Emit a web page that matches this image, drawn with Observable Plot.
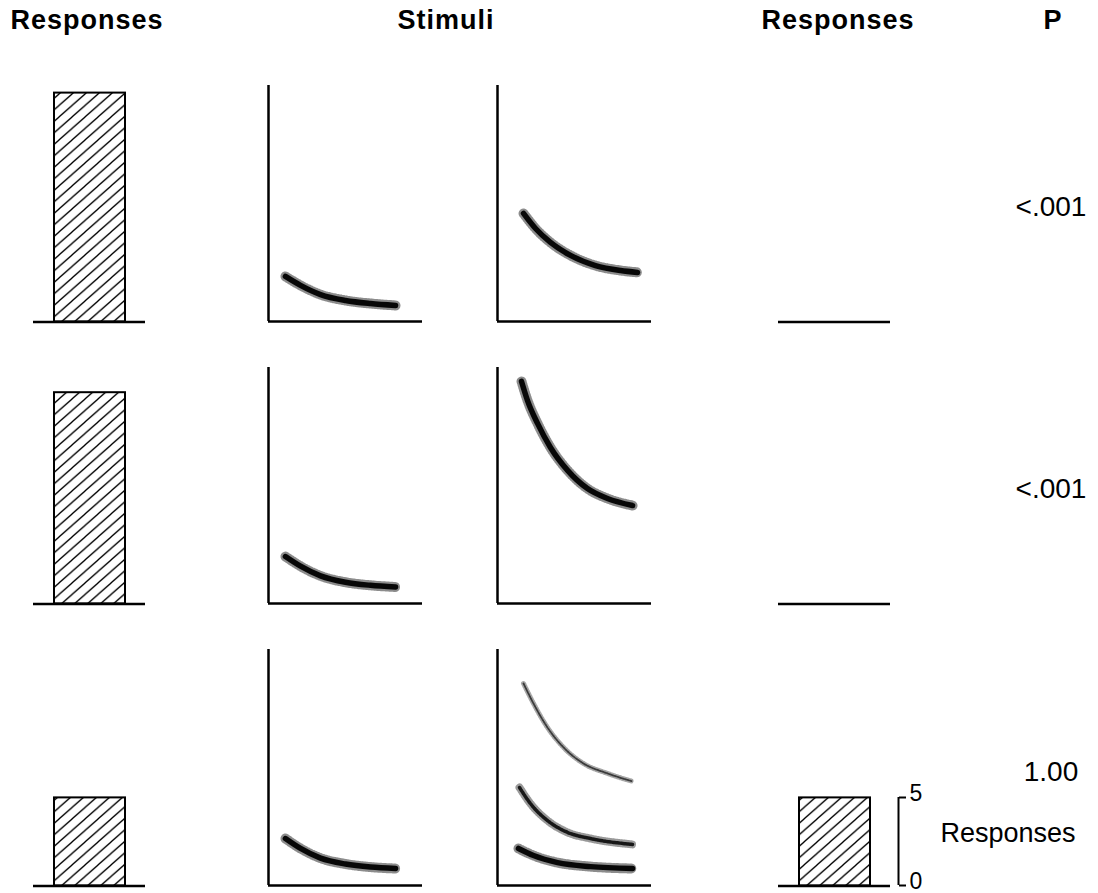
<!DOCTYPE html>
<html><head><meta charset="utf-8">
<script src="https://cdn.jsdelivr.net/npm/d3@7"></script>
<script src="https://cdn.jsdelivr.net/npm/@observablehq/plot@0.6"></script>
<style>
body{margin:0;background:#fff;}
#fig{position:relative;width:1098px;height:893px;overflow:hidden;font-family:"Liberation Sans",Arial,sans-serif;color:#000;background:#fff;}
.title{position:absolute;font-weight:bold;font-size:27px;letter-spacing:1px;line-height:27px;transform:translateX(-50%);white-space:nowrap;}
.pval{position:absolute;font-size:28px;line-height:28px;transform:translateX(-50%);white-space:nowrap;}
</style></head><body>
<svg width="0" height="0" style="position:absolute"><defs>
<pattern id="hatch" patternUnits="userSpaceOnUse" width="13" height="11.5">
<path d="M-1.3,1.15 L1.3,-1.15 M0,11.5 L13,0 M11.7,12.65 L14.3,10.35" stroke="#000" stroke-width="1.3"/>
</pattern></defs></svg>
<div id="fig"></div>
<script>
// ---------- data ----------
const columnTitles = ["Responses", "Stimuli", "Responses", "P"];
const leftResponses = [13, 12, 5];
const rightResponses = [0, 0, 5];
const pValues = ["<.001", "<.001", "1.00"];
const scaleTicks = [0, 5];
const scaleLabel = "Responses";

// Stimulus A (left stimulus panel), time vs intensity, one per row
const stimA_time = [1.10, 2.08, 3.38, 5.00, 6.62, 8.25];
const stimA_row1 = [1.91, 1.53, 1.14, 0.89, 0.76, 0.68];
const stimA_row2 = [1.99, 1.58, 1.17, 0.90, 0.77, 0.70];
const stimA_row3 = [1.99, 1.57, 1.16, 0.91, 0.78, 0.72];

// Stimulus B (right stimulus panel)
const stimB_row1_time = [1.69, 2.47, 3.44, 4.74, 6.36, 7.99, 9.09];
const stimB_row1 = [4.58, 3.94, 3.35, 2.80, 2.37, 2.16, 2.08];
const stimB_row2_time = [1.56, 1.95, 2.60, 3.44, 4.55, 5.84, 7.14, 8.77];
const stimB_row2 = [9.41, 8.60, 7.63, 6.61, 5.64, 4.87, 4.45, 4.15];
const stimB_row3_high_time = [1.69, 2.34, 3.25, 4.29, 5.58, 7.14, 8.77];
const stimB_row3_high = [8.56, 7.71, 6.69, 5.85, 5.17, 4.75, 4.41];
const stimB_row3_mid_time = [1.43, 2.14, 3.25, 4.55, 6.04, 8.77];
const stimB_row3_mid = [4.15, 3.47, 2.75, 2.25, 1.99, 1.74];
const stimB_row3_low_time = [1.36, 2.34, 3.90, 6.04, 8.77];
const stimB_row3_low = [1.57, 1.27, 0.97, 0.80, 0.72];

// ---------- layout ----------
const fig = document.getElementById("fig");
const baselines = [321, 603, 885];
const PX = 17.6;          // pixels per response
const BAR_MAX = 14;
const FONT = '"Liberation Sans", Arial, sans-serif';

function place(el, left, top) {
  el.style.position = "absolute";
  el.style.left = left + "px";
  el.style.top = top + "px";
  fig.append(el);
}
function textDiv(cls, txt, cx, top) {
  const d = document.createElement("div");
  d.className = cls; d.textContent = txt;
  d.style.left = cx + "px"; d.style.top = top + "px";
  fig.append(d);
}

const titleX = [87, 446, 838, 1053];
columnTitles.forEach((t, i) => textDiv("title", t, titleX[i], 7));
const pTops = [193, 475, 758];
pValues.forEach((p, i) => textDiv("pval", p, 1051, pTops[i]));

const pts = (t, v) => t.map((d, i) => ({t: d, v: v[i]}));

function barPlot(value) {
  return Plot.plot({
    width: 112, height: BAR_MAX * PX + 8,
    marginTop: 4, marginBottom: 4, marginLeft: 0, marginRight: 0,
    style: {background: "transparent", overflow: "visible"},
    x: {domain: ["r"], padding: 0.22, axis: null},
    y: {domain: [0, BAR_MAX], axis: null},
    marks: [
      Plot.barY([value], {x: () => "r", y: d => d, fill: "url(#hatch)", stroke: "#000", strokeWidth: 2}),
      Plot.ruleY([0], {stroke: "#000", strokeWidth: 2.5})
    ]
  });
}

const curveStyles = {
  dense:  {halo: 10, haloOp: 0.45, core: 5.5, coreOp: 0.95, dash: null},
  medium: {halo: 8,  haloOp: 0.4,  core: 3.5, coreOp: 0.85, dash: "2 0.8"},
  sparse: {halo: 5,  haloOp: 0.35, core: 1.8, coreOp: 0.65, dash: "1.5 1.2"}
};

function stimPlot(curves) {
  const marks = [];
  for (const c of curves) {
    const s = curveStyles[c.style];
    const data = pts(c.t, c.v);
    marks.push(Plot.line(data, {x: "t", y: "v", curve: "monotone-x", stroke: "#000",
      strokeWidth: s.halo, strokeOpacity: s.haloOp, strokeDasharray: "1 1.8"}));
    marks.push(Plot.line(data, {x: "t", y: "v", curve: "monotone-x", stroke: "#000",
      strokeWidth: s.core, strokeOpacity: s.coreOp, strokeDasharray: s.dash}));
  }
  marks.push(Plot.ruleX([0], {stroke: "#000", strokeWidth: 2.5}));
  marks.push(Plot.ruleY([0], {stroke: "#000", strokeWidth: 2.5}));
  return Plot.plot({
    width: 158, height: 240, marginTop: 2, marginBottom: 2, marginLeft: 2, marginRight: 2,
    style: {background: "transparent", overflow: "visible"},
    x: {domain: [0, 10], axis: null},
    y: {domain: [0, 10], axis: null},
    marks
  });
}

const stimARows = [stimA_row1, stimA_row2, stimA_row3];
const stimBRows = [
  [{t: stimB_row1_time, v: stimB_row1, style: "dense"}],
  [{t: stimB_row2_time, v: stimB_row2, style: "dense"}],
  [{t: stimB_row3_high_time, v: stimB_row3_high, style: "sparse"},
   {t: stimB_row3_mid_time, v: stimB_row3_mid, style: "medium"},
   {t: stimB_row3_low_time, v: stimB_row3_low, style: "dense"}]
];

baselines.forEach((b, i) => {
  const barTop = b - 4 - BAR_MAX * PX;
  place(barPlot(leftResponses[i]), 33, barTop);
  place(stimPlot([{t: stimA_time, v: stimARows[i], style: "dense"}]), 266, b - 2 - 236);
  place(stimPlot(stimBRows[i]), 495, b - 2 - 236);
  place(barPlot(rightResponses[i]), 778, barTop);
});

// scale bar for responses
const scale = Plot.plot({
  width: 200, height: 5 * PX + 20, marginTop: 10, marginBottom: 10, marginLeft: 0, marginRight: 190,
  style: {background: "transparent", overflow: "visible", fontFamily: FONT},
  x: {domain: [0, 1], axis: null},
  y: {domain: [0, 5], axis: null},
  marks: [
    Plot.ruleX([1], {y1: d3.min(scaleTicks), y2: d3.max(scaleTicks), stroke: "#000", strokeWidth: 2}),
    // tick marks
    Plot.axisY(scaleTicks, {anchor: "right", tickSize: 7, tickFormat: () => "",
      label: null, stroke: "#000", strokeWidth: 2}),
    // tick labels
    Plot.axisY(scaleTicks, {anchor: "right", tickSize: 0, tickPadding: 11, fontSize: 23, dy: -4,
      label: null, fill: "#000"}),
    Plot.text([scaleLabel], {frameAnchor: "right", textAnchor: "start", dx: 42, dy: -8, fontSize: 27, fill: "#000"})
  ]
});
place(scale, 888, baselines[2] - 10 - 5 * PX);
</script>
</body></html>
